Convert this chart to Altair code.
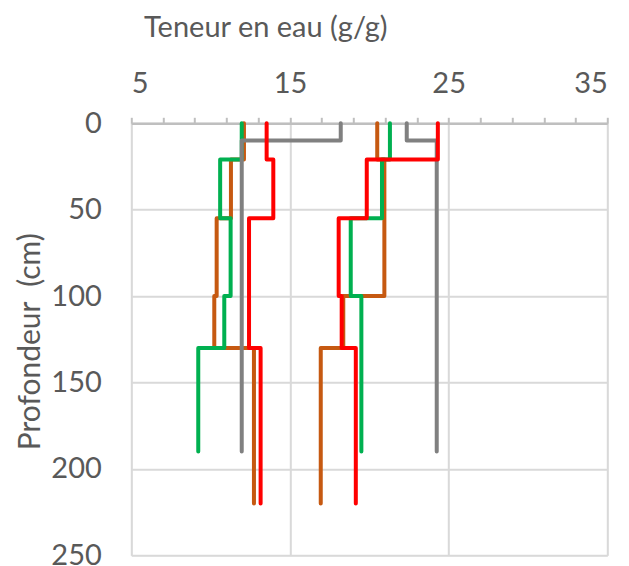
import altair as alt
import pandas as pd

# Depth boundaries (cm) and water content (g/g) for each layer of each profile
orange_a_depth = [0, 21, 55, 100, 130, 220]
orange_a_water = [12.1, 11.28, 10.38, 10.23, 12.73]
orange_b_depth = [0, 21, 100, 130, 220]
orange_b_water = [20.5, 20.95, 18.36, 16.94]

green_a_depth = [0, 21, 55, 100, 130, 190]
green_a_water = [11.96, 10.6, 11.26, 10.86, 9.22]
green_b_depth = [0, 21, 55, 100, 190]
green_b_water = [21.3, 20.8, 18.83, 19.5]

gray_a_depth = [0, 10, 190]
gray_a_water = [18.2, 11.96]
gray_b_depth = [0, 10, 190]
gray_b_water = [22.36, 24.25]

red_a_depth = [0, 21, 55, 130, 220]
red_a_water = [13.53, 13.95, 12.42, 13.15]
red_b_depth = [0, 21, 55, 100, 130, 220]
red_b_water = [24.32, 19.84, 18.07, 18.26, 19.15]

x_tick_values = list(range(5, 36, 2))
y_tick_values = [0, 50, 100, 150, 200, 250]

series = [
    ("orange_a", "#c65911", orange_a_depth, orange_a_water),
    ("orange_b", "#c65911", orange_b_depth, orange_b_water),
    ("green_a", "#00b050", green_a_depth, green_a_water),
    ("green_b", "#00b050", green_b_depth, green_b_water),
    ("gray_a", "#808080", gray_a_depth, gray_a_water),
    ("gray_b", "#808080", gray_b_depth, gray_b_water),
    ("red_a", "#ff0000", red_a_depth, red_a_water),
    ("red_b", "#ff0000", red_b_depth, red_b_water),
]

rows = []
for name, color, bounds, values in series:
    k = 0
    for i, v in enumerate(values):
        rows.append(dict(s=name, c=color, x=v, d=bounds[i], k=k)); k += 1
        rows.append(dict(s=name, c=color, x=v, d=bounds[i + 1], k=k)); k += 1
df = pd.DataFrame(rows)

FONT = "Lato"
TXT = "#595959"
FS = 29

x_scale = alt.Scale(domain=[5, 35], nice=False, zero=False)
y_scale = alt.Scale(domain=[0, 250], reverse=True, nice=False, zero=False)

x_axis = alt.Axis(
    orient="top",
    values=x_tick_values,
    labelExpr="(datum.value - 5) % 10 == 0 ? datum.label : ''",
    labelFont=FONT, labelFontSize=FS, labelColor=TXT, labelPadding=18.5,
    tickSize=6, tickColor="#bfbfbf", tickWidth=2,
    domain=True, domainColor="#bfbfbf", domainWidth=2.5,
    grid=True, gridColor="#d9d9d9", gridWidth=2,
    gridOpacity={"condition": {"test": "(datum.value - 5) % 10 == 0", "value": 1}, "value": 0},
    title="Teneur en eau (g/g)",
    titleFont=FONT, titleFontSize=FS, titleFontWeight="normal", titleColor=TXT,
    titleX=134, titleY=-87, titleAlign="center", titleBaseline="alphabetic",
)
y_axis = alt.Axis(
    values=y_tick_values,
    labelFont=FONT, labelFontSize=FS, labelColor=TXT, labelPadding=30,
    ticks=False, tickSize=0, domain=False,
    grid=True, gridColor="#d9d9d9", gridWidth=2,
    title="Profondeur\u00a0\u00a0(cm)",
    titleFont=FONT, titleFontSize=30, titleFontWeight="normal", titleColor=TXT,
    titleX=-101, titleY=218, titleAngle=-90, titleAlign="center", titleBaseline="middle",
)

layers = []
for i, (name, color, _, _) in enumerate(series):
    layers.append(
        alt.Chart(df).transform_filter(alt.datum.s == name).mark_line(
            color=color, strokeWidth=4, strokeCap="round", strokeJoin="round", clip=False
        ).encode(
            x=alt.X("x:Q", scale=x_scale, axis=x_axis),
            y=alt.Y("d:Q", scale=y_scale, axis=y_axis),
            order=alt.Order("k:Q"),
        )
    )

chart = alt.layer(*layers).properties(
    width=476, height=432,
    autosize=alt.AutoSizeParams(type="none"),
    padding={"left": 123.3, "top": 115.3, "right": 10, "bottom": 25},
).configure_view(strokeWidth=0).configure(background="white")

chart.save("out.html", embed_options={"renderer": "svg", "actions": False})
